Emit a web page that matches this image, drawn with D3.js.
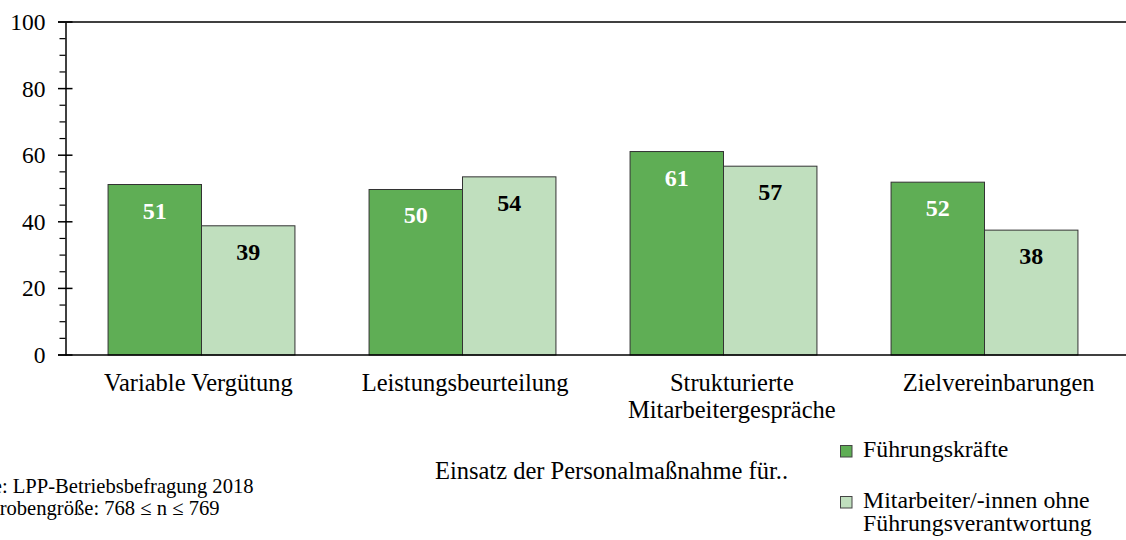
<!DOCTYPE html>
<html>
<head>
<meta charset="utf-8">
<script src="https://cdn.jsdelivr.net/npm/d3@7"></script>
<style>
  html, body { margin: 0; padding: 0; background: #fff; }
  svg { display: block; }
  text { font-family: "Liberation Serif", "Times New Roman", serif; fill: #000; }
</style>
</head>
<body>
<svg id="chart" width="1126" height="540"></svg>
<script>
// ---- data ----
const categories = ["Variable Vergütung", "Leistungsbeurteilung", "Strukturierte Mitarbeitergespräche", "Zielvereinbarungen"];
const categoryLines = [["Variable Vergütung"], ["Leistungsbeurteilung"], ["Strukturierte", "Mitarbeitergespräche"], ["Zielvereinbarungen"]];
const seriesNames = ["Führungskräfte", "Mitarbeiter/-innen ohne Führungsverantwortung"];
const legendLines = [["Führungskräfte"], ["Mitarbeiter/-innen ohne", "Führungsverantwortung"]];
const fuehrungValues = [51.2, 49.7, 61.1, 51.9];
const mitarbeiterValues = [38.8, 53.5, 56.7, 37.5];
const valueLabels = [[51, 50, 61, 52], [39, 54, 57, 38]];
const yTicks = [0, 20, 40, 60, 80, 100];
const yMinorTicks = d3.range(0, 101, 5);
const xTitle = "Einsatz der Personalmaßnahme für..";
const footer = ["Quelle: LPP-Betriebsbefragung 2018", "Stichprobengröße: 768 ≤ n ≤ 769"];

const colors = ["#5fae55", "#c0dfbe"];
const series = [fuehrungValues, mitarbeiterValues];
const FONT = "'Liberation Serif', 'Times New Roman', serif";

const svg = d3.select("#chart");
const axisX = 65.5;
const y = d3.scaleLinear().domain([0, 100]).range([355, 22]);
const x0 = d3.scaleBand().domain(categories).range([71, 1115]).paddingInner(0.284).paddingOuter(0.142);
const x1 = d3.scaleBand().domain([0, 1]).range([0, x0.bandwidth()]);
const xLabel = d3.scaleBand().domain(categories).range([65, 1132]);

// top frame line
svg.append("line").attr("x1", 58).attr("x2", 1126).attr("y1", y(100)).attr("y2", y(100))
  .attr("stroke", "#000").attr("stroke-width", 1.3);

// bars
categories.forEach((c, i) => {
  series.forEach((vals, s) => {
    const bx = x0(c) + x1(s);
    svg.append("rect")
      .attr("x", bx).attr("y", y(vals[i]))
      .attr("width", x1.bandwidth()).attr("height", y(0) - y(vals[i]))
      .attr("fill", colors[s]).attr("stroke", "#333").attr("stroke-width", 1);
    svg.append("text")
      .attr("x", bx + x1.bandwidth() / 2).attr("y", y(vals[i]) + 34)
      .attr("text-anchor", "middle").attr("font-weight", "bold").attr("font-size", 24)
      .style("fill", s === 0 ? "#fff" : "#000")
      .text(valueLabels[s][i]);
  });
});

// baseline
svg.append("line").attr("x1", 58).attr("x2", 1126).attr("y1", y(0)).attr("y2", y(0))
  .attr("stroke", "#000").attr("stroke-width", 1.3);

// y axis
const yAxis = d3.axisLeft(y).tickValues(yTicks).tickSize(0).tickPadding(20);
const gy = svg.append("g").attr("transform", `translate(${axisX},0)`).call(yAxis);
gy.select(".domain").attr("stroke", "#000").attr("stroke-width", 1.5);
gy.selectAll(".tick text").style("font-family", FONT).style("font-size", "23.5px").style("fill", "#000");
// minor ticks
svg.append("g").selectAll("line").data(yMinorTicks.filter(v => v % 20 !== 0)).join("line")
  .attr("x1", axisX - 6).attr("x2", axisX).attr("y1", d => y(d)).attr("y2", d => y(d))
  .attr("stroke", "#000").attr("stroke-width", 1.2);
// major ticks crossing the axis
svg.append("g").selectAll("line").data(yTicks).join("line")
  .attr("x1", axisX - 7.5).attr("x2", axisX + 7).attr("y1", d => y(d)).attr("y2", d => y(d))
  .attr("stroke", "#000").attr("stroke-width", 1.5);

// category labels
categories.forEach((c, i) => {
  const cx = xLabel(c) + xLabel.bandwidth() / 2;
  const t = svg.append("text").attr("x", cx).attr("y", 391)
    .attr("text-anchor", "middle").style("font-size", "24.5px");
  categoryLines[i].forEach((ln, k) => {
    t.append("tspan").attr("x", cx).attr("dy", k === 0 ? 0 : 26.5).text(ln);
  });
});

// x title
svg.append("text").attr("x", 611.5).attr("y", 479).attr("text-anchor", "middle")
  .style("font-size", "24.5px").text(xTitle);

// footer (partly clipped at the left edge, as in the source)
footer.forEach((ln, k) => {
  svg.append("text").attr("x", -53).attr("y", 493 + k * 22).style("font-size", "20.6px").text(ln);
});

// legend
const legendY = [445, 496];
legendLines.forEach((lines, s) => {
  svg.append("rect").attr("x", 840.5).attr("y", legendY[s] + 0.5).attr("width", 11.5).attr("height", 11.5)
    .attr("fill", colors[s]).attr("stroke", "#444").attr("stroke-width", 1);
  const t = svg.append("text").attr("x", 863).attr("y", legendY[s] + 11.5).style("font-size", "23.8px");
  lines.forEach((ln, k) => {
    t.append("tspan").attr("x", 863).attr("dy", k === 0 ? 0 : 23.5).text(ln);
  });
});
</script>
</body>
</html>
